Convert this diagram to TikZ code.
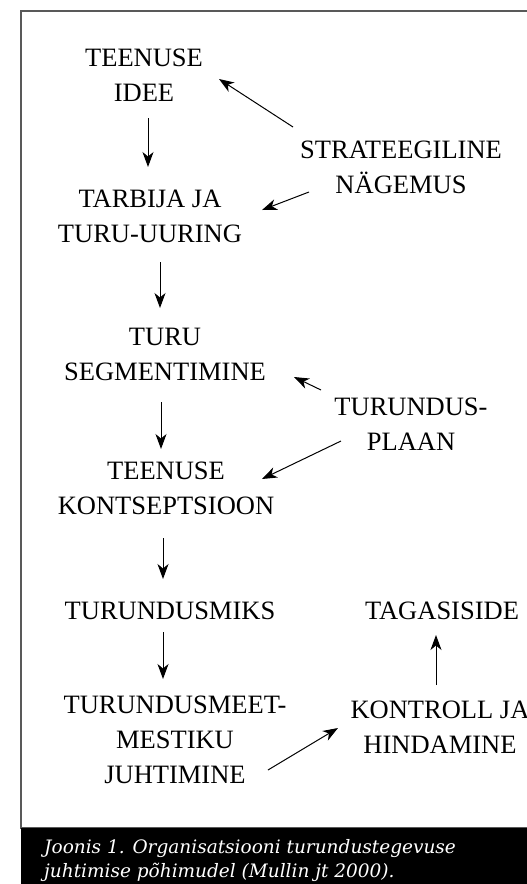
\documentclass[tikz,border=0pt]{standalone}
\usepackage{fontspec}
\setmainfont{Liberation Serif}
\newfontfamily\captionfont{DejaVu Serif}
\usetikzlibrary{arrows.meta,calc}

\begin{document}
\begin{tikzpicture}[x=1pt,y=-1pt,
    box/.style={align=center,inner sep=0pt,anchor=base,font=\fontsize{26.5}{35}\selectfont},
    arr/.style={-{Stealth[length=15pt,width=11pt,inset=4.5pt]},line width=1pt}]
\useasboundingbox (0,0) rectangle (527,884);
\clip (0,0) rectangle (527,884);
% frame and caption bar
\draw[black!65,line width=1.2pt] (21,11) rectangle (640,828);
\fill (21,828) rectangle (640,884);
\node[anchor=base west,align=left,inner sep=0pt,text=white,
      font=\captionfont\itshape\fontsize{18.5}{24}\selectfont] (caption) at (44,877)
      {Joonis 1. Organisatsiooni turundustegevuse\\juhtimise põhimudel (Mullin jt 2000).};

% steps (placed at the baseline of their last line)
\node[box] (idee) at (144,101) {TEENUSE\\IDEE};
\node[box] (vision) at (401,193) {STRATEEGILINE\\NÄGEMUS};
\node[box] (research) at (150,242) {TARBIJA JA\\TURU-UURING};
\node[box] (segment) at (165,380) {TURU\\SEGMENTIMINE};
\node[box] (plan) at (411,450) {TURUNDUS-\\PLAAN};
\node[box] (concept) at (166,514) {TEENUSE\\KONTSEPTSIOON};
\node[box] (mix) at (170,619) {TURUNDUSMIKS};
\node[box] (feedback) at (442,619) {TAGASISIDE};
\node[box] (media) at (175,783) {TURUNDUSMEET-\\MESTIKU\\JUHTIMINE};
\node[box] (control) at (440,753) {KONTROLL JA\\HINDAMINE};

% arrows
\draw[arr] ($(idee.base)+(4,17)$) -- ($(research.base)+(-2,-75)$);
\draw[arr] ($(vision.base)+(-108,-66)$) -- ($(idee.base)+(75,-22)$);
\draw[arr] ($(vision.base)+(-92,-1)$) -- ($(research.base)+(112,-32)$);
\draw[arr] ($(research.base)+(10,20)$) -- ($(segment.base)+(-5,-72)$);
\draw[arr] ($(plan.base)+(-90,-60)$) -- ($(segment.base)+(129,-3)$);
\draw[arr] ($(segment.base)+(-4,22)$) -- ($(concept.base)+(-5,-65)$);
\draw[arr] ($(plan.base)+(-70,-9)$) -- ($(concept.base)+(96,-35)$);
\draw[arr] ($(concept.base)+(-3,24)$) -- ($(mix.base)+(-7,-40)$);
\draw[arr] ($(mix.base)+(-7,13)$) -- ($(media.base)+(-12,-104)$);
\draw[arr] ($(media.base)+(93,-13)$) -- ($(control.base)+(-102,-25)$);
\draw[arr] ($(control.base)+(-4,-68)$) -- ($(feedback.base)+(-6,16)$);
\end{tikzpicture}
\end{document}
